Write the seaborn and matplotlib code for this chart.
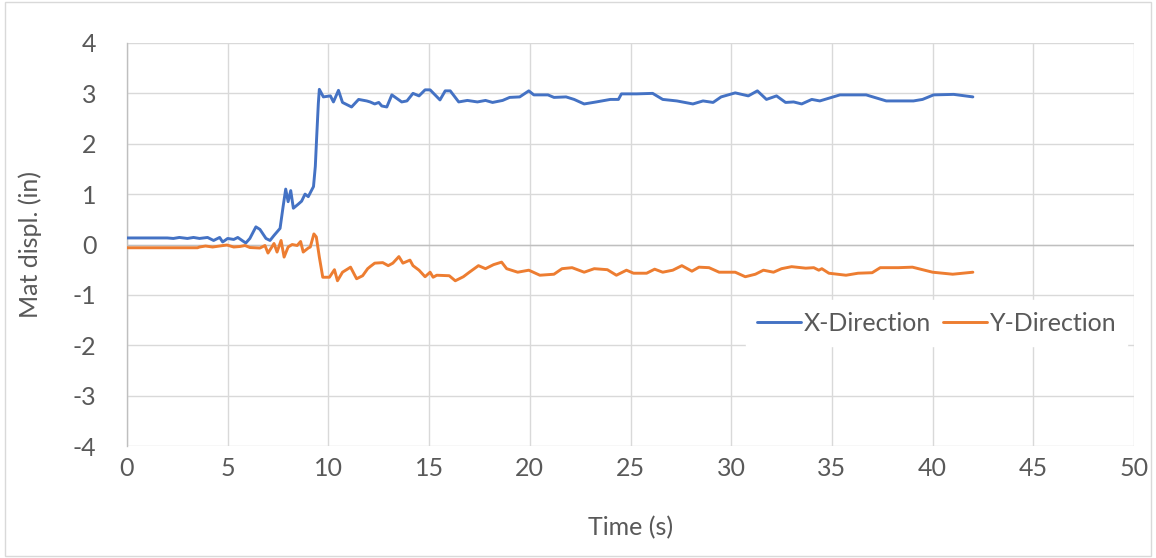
import matplotlib
matplotlib.use("Agg")
import matplotlib.pyplot as plt
import seaborn as sns
import pandas as pd
from matplotlib.patches import Rectangle

# Mat displacement records (time in s, displacement in inches)
time_x = [0, 1, 2, 2.3, 2.6, 3.0, 3.3, 3.6, 4.0, 4.3, 4.6, 4.75, 5.0, 5.3, 5.5,
          5.75, 5.9, 6.1, 6.4, 6.6, 6.9, 7.1, 7.3, 7.6, 7.75, 7.88, 8.0, 8.13,
          8.26, 8.5, 8.67, 8.84, 9.0, 9.26, 9.35, 9.42, 9.5, 9.55, 9.75, 10.1,
          10.25, 10.5, 10.7, 11.15, 11.5, 11.9, 12.07, 12.3, 12.5, 12.65, 12.9,
          13.15, 13.64, 13.9, 14.2, 14.5, 14.8, 15.05, 15.54, 15.8, 16.05, 16.47,
          16.9, 17.4, 17.8, 18.15, 18.65, 19.0, 19.5, 19.95, 20.2, 20.9, 21.2,
          21.8, 22.2, 22.7, 23.3, 24.0, 24.4, 24.55, 25.3, 26.1, 26.6, 27.3,
          28.1, 28.6, 29.1, 29.5, 30.2, 30.85, 31.3, 31.75, 32.25, 32.7, 33.1,
          33.5, 34.0, 34.4, 35.4, 36.7, 37.7, 39.05, 39.5, 40.05, 41.05, 42.0]
disp_x = [0.13, 0.13, 0.13, 0.12, 0.14, 0.12, 0.14, 0.12, 0.14, 0.08, 0.14, 0.05,
          0.12, 0.10, 0.14, 0.07, 0.03, 0.12, 0.35, 0.30, 0.12, 0.08, 0.18, 0.32,
          0.75, 1.10, 0.85, 1.07, 0.72, 0.80, 0.86, 1.00, 0.95, 1.15, 1.55, 2.15,
          2.80, 3.08, 2.93, 2.95, 2.83, 3.06, 2.82, 2.73, 2.88, 2.85, 2.83, 2.79,
          2.82, 2.75, 2.73, 2.97, 2.83, 2.85, 3.00, 2.95, 3.07, 3.07, 2.87, 3.05,
          3.05, 2.83, 2.86, 2.83, 2.86, 2.82, 2.86, 2.92, 2.93, 3.05, 2.97, 2.97,
          2.92, 2.93, 2.88, 2.79, 2.83, 2.88, 2.88, 2.99, 2.99, 3.00, 2.88, 2.85,
          2.79, 2.85, 2.82, 2.93, 3.01, 2.95, 3.05, 2.88, 2.95, 2.82, 2.83, 2.79,
          2.88, 2.85, 2.97, 2.97, 2.85, 2.85, 2.88, 2.97, 2.98, 2.93]

time_y = [0, 3.5, 3.6, 3.9, 4.25, 4.6, 4.96, 5.3, 5.6, 5.86, 6.1, 6.6, 6.85, 7.0,
          7.3, 7.45, 7.65, 7.8, 8.0, 8.2, 8.45, 8.62, 8.75, 9.0, 9.1, 9.28, 9.4,
          9.55, 9.72, 10.05, 10.3, 10.45, 10.7, 11.1, 11.4, 11.7, 11.95, 12.07,
          12.3, 12.7, 12.97, 13.2, 13.5, 13.7, 14.05, 14.2, 14.5, 14.8, 15.05,
          15.2, 15.38, 16.0, 16.3, 16.7, 17.0, 17.45, 17.8, 18.2, 18.6, 18.85,
          19.4, 19.95, 20.5, 21.2, 21.6, 22.1, 22.7, 23.2, 23.85, 24.3, 24.8,
          25.15, 25.8, 26.2, 26.6, 27.1, 27.55, 28.05, 28.4, 28.9, 29.4, 30.2,
          30.7, 31.2, 31.6, 32.1, 32.5, 33.0, 33.7, 34.1, 34.35, 34.5, 34.85,
          35.7, 36.3, 37.0, 37.4, 38.3, 39.0, 40.0, 41.0, 42.0]
disp_y = [-0.065, -0.065, -0.05, -0.03, -0.05, -0.03, -0.01, -0.05, -0.04, -0.02,
          -0.06, -0.07, -0.02, -0.17, 0.02, -0.15, 0.08, -0.25, -0.05, 0.0, -0.02,
          0.06, -0.15, -0.07, -0.05, 0.21, 0.15, -0.25, -0.65, -0.65, -0.50, -0.72,
          -0.55, -0.45, -0.68, -0.62, -0.48, -0.44, -0.37, -0.36, -0.42, -0.37,
          -0.24, -0.37, -0.31, -0.42, -0.51, -0.64, -0.55, -0.65, -0.61, -0.62,
          -0.72, -0.64, -0.55, -0.42, -0.48, -0.40, -0.35, -0.48, -0.55, -0.51,
          -0.61, -0.59, -0.48, -0.46, -0.55, -0.48, -0.50, -0.61, -0.51, -0.57,
          -0.57, -0.49, -0.55, -0.51, -0.42, -0.53, -0.45, -0.46, -0.55, -0.55,
          -0.64, -0.59, -0.51, -0.55, -0.48, -0.44, -0.47, -0.46, -0.51, -0.48,
          -0.57, -0.61, -0.57, -0.56, -0.46, -0.46, -0.45, -0.55, -0.59, -0.55]

series_names = ["X-Direction", "Y-Direction"]
series_colors = ["#4472C4", "#ED7D31"]
x_ticks = list(range(0, 51, 5))
y_ticks = list(range(-4, 5))

sns.set_theme(style="white")
plt.rcParams["font.family"] = ["Lato", "DejaVu Sans"]
plt.rcParams["axes.unicode_minus"] = False

text_color = "#595959"
grid_color = "#D9D9D9"
axis_color = "#BFBFBF"
fs = 18

fig = plt.figure(figsize=(11.56, 5.58), dpi=100)
ax = fig.add_axes([127 / 1156, 1 - 446 / 558, (1134 - 127) / 1156, (446 - 43) / 558])

df = pd.concat([
    pd.DataFrame({"Time": time_x, "Disp": disp_x, "Series": series_names[0]}),
    pd.DataFrame({"Time": time_y, "Disp": disp_y, "Series": series_names[1]}),
])

sns.lineplot(data=df, x="Time", y="Disp", hue="Series", palette=series_colors,
             estimator=None, sort=False, linewidth=2.1, ax=ax, zorder=3)

ax.set_xlim(0, 50)
ax.set_ylim(-4, 4)
ax.set_xticks(x_ticks)
ax.set_yticks(y_ticks)
ax.grid(True, color=grid_color, linewidth=1.0)
ax.set_axisbelow(True)
ax.axhline(0, color=axis_color, linewidth=1.0, zorder=2)

for side in ["top", "right", "bottom"]:
    ax.spines[side].set_visible(False)
ax.spines["left"].set_color(axis_color)
ax.spines["left"].set_linewidth(1.0)

ax.tick_params(axis="both", length=0, labelsize=fs, colors=text_color)
ax.tick_params(axis="x", pad=8)
ax.tick_params(axis="y", pad=22)
ax.set_xlabel("Time (s)", fontsize=fs, color=text_color, labelpad=26)
ax.set_ylabel("Mat displ. (in)", fontsize=fs, color=text_color, labelpad=22)

handles, labels = ax.get_legend_handles_labels()
leg = ax.legend(handles, labels, loc="center", bbox_to_anchor=(0.804, 0.305),
                ncol=2, frameon=True, fontsize=fs, handlelength=1.75,
                handletextpad=0.1, columnspacing=0.5, borderpad=0.45,
                fancybox=False)
leg.get_frame().set_facecolor("white")
leg.get_frame().set_edgecolor("white")
leg.get_frame().set_alpha(1.0)
for txt in leg.get_texts():
    txt.set_color(text_color)
for line in leg.get_lines():
    line.set_linewidth(2.1)

# Chart area border
fig.patches.append(Rectangle((0.004, 0.004), 0.992, 0.992, transform=fig.transFigure,
                             fill=False, edgecolor=grid_color, linewidth=1.0))

fig.savefig("out.png", dpi=100, facecolor="white")
